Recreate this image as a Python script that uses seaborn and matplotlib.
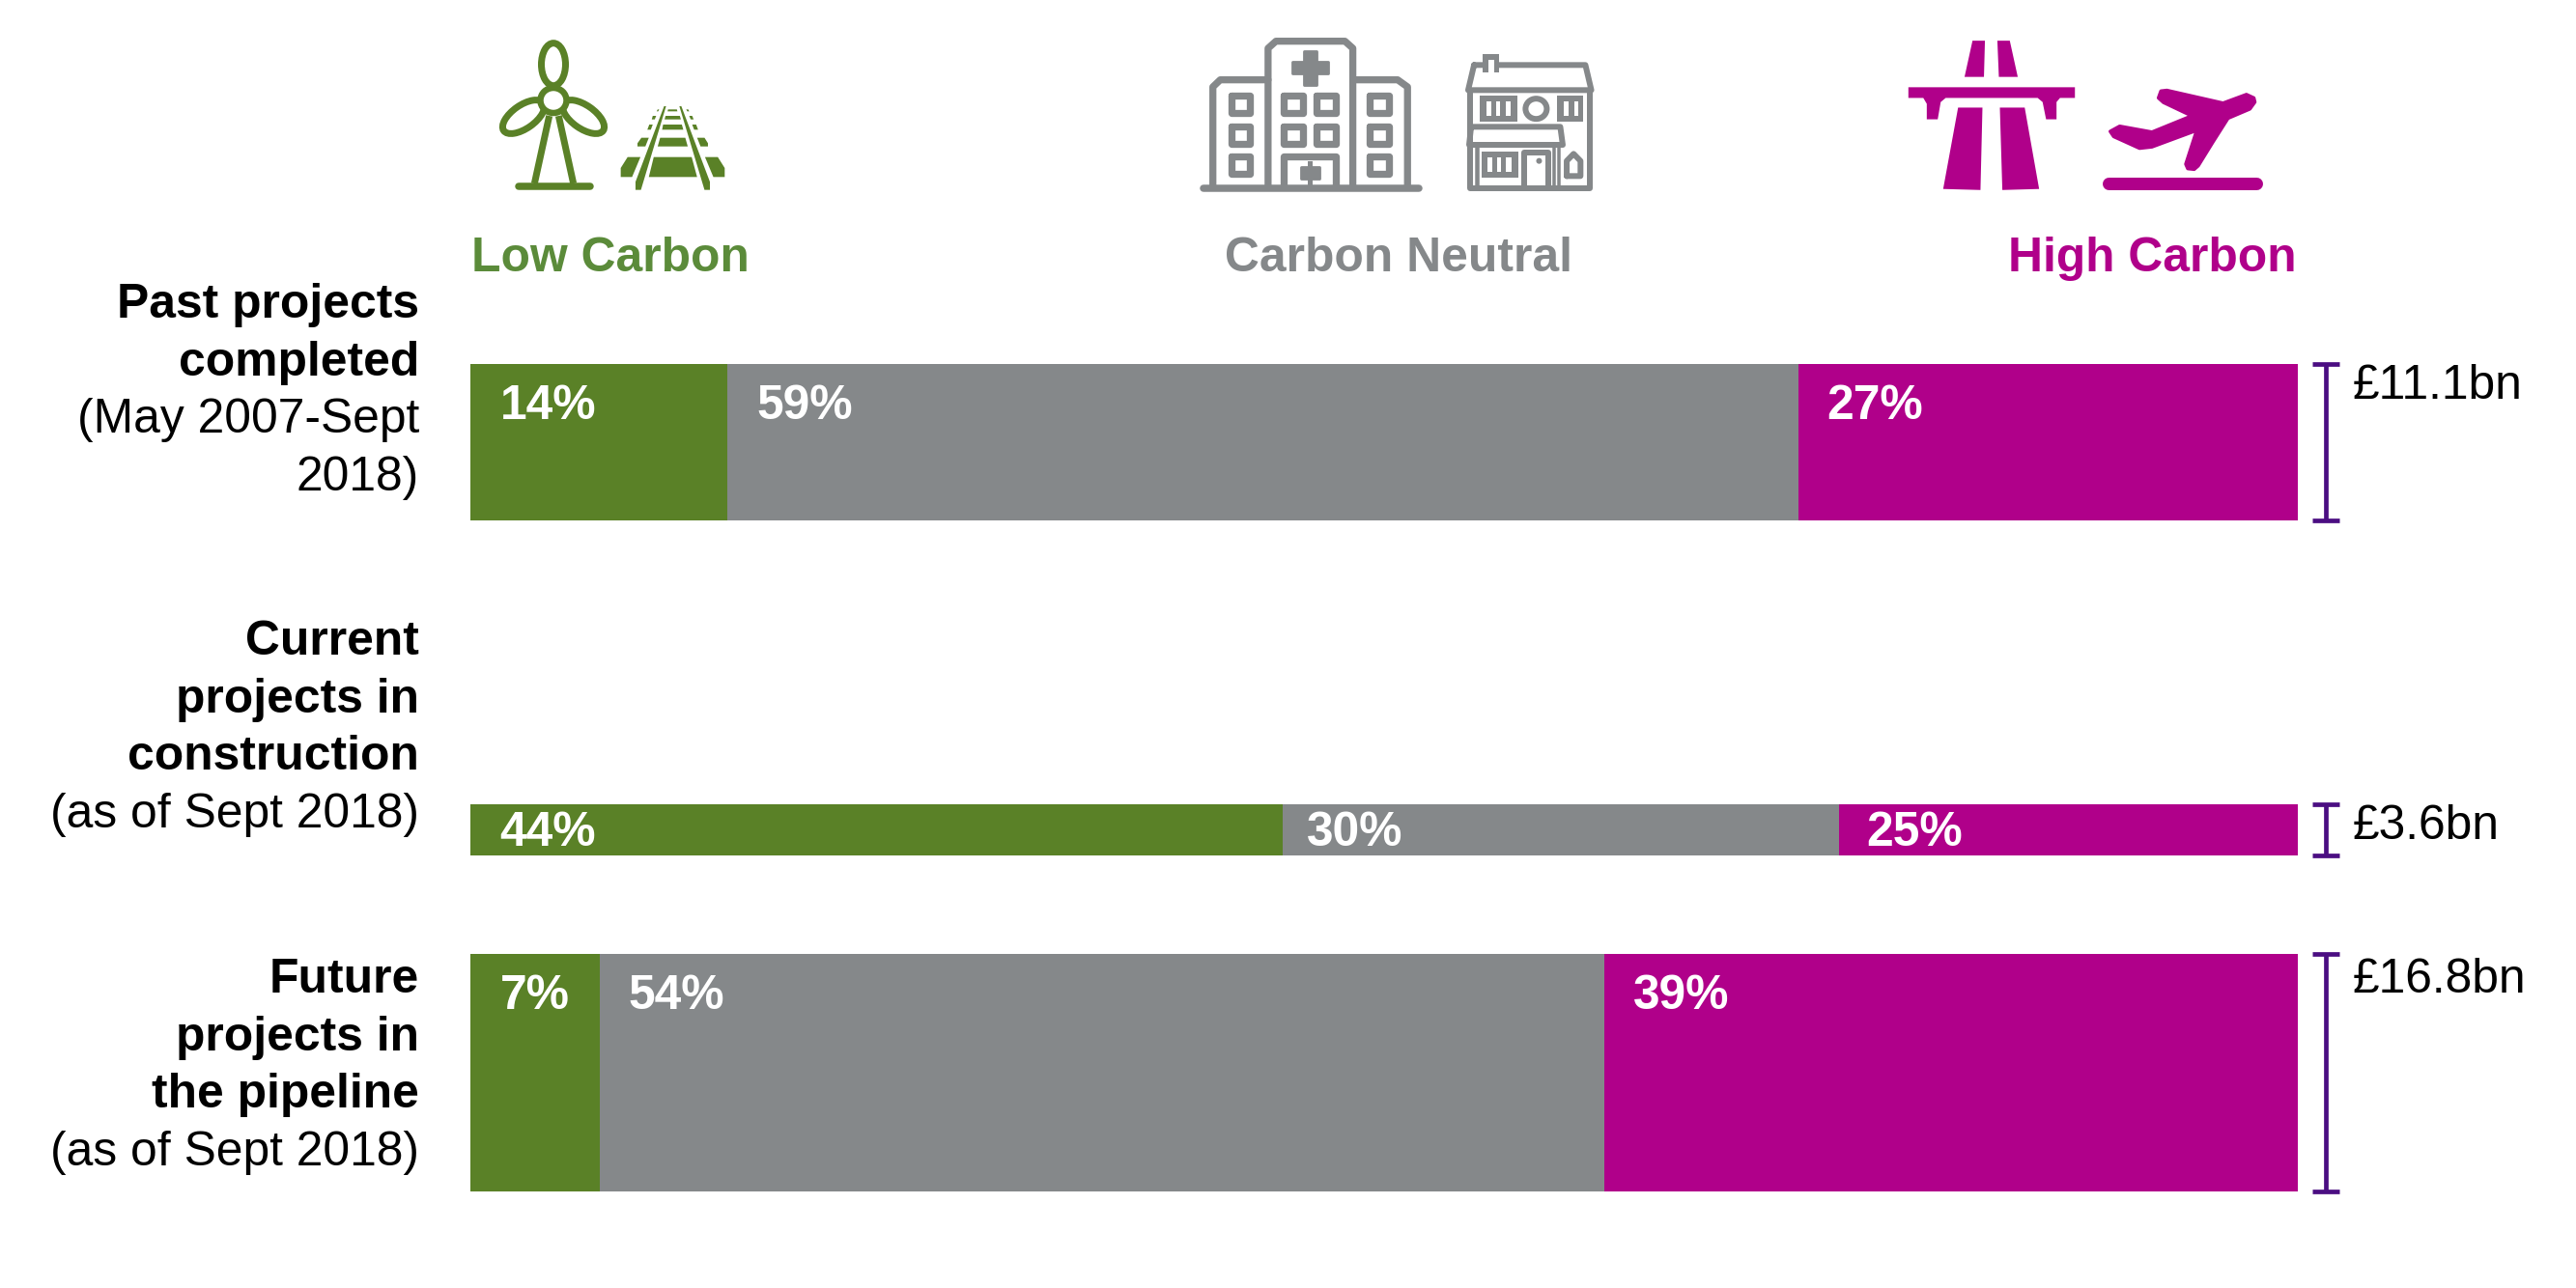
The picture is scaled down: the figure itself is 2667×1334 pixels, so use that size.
import numpy as np
import pandas as pd
import matplotlib
matplotlib.use("Agg")
import matplotlib.pyplot as plt
from matplotlib.patches import Polygon, Ellipse
import seaborn as sns

# data
projects = ["Past", "Current", "Future"]
totals = [11.1, 3.6, 16.8]  # £bn, sets bar thickness
total_labels = ["£11.1bn", "£3.6bn", "£16.8bn"]
low_share = [14.1, 44.5, 7.1]
neutral_share = [58.6, 30.4, 55.0]
high_share = [27.3, 25.1, 37.9]
low_labels = ["14%", "44%", "7%"]
neutral_labels = ["59%", "30%", "54%"]
high_labels = ["27%", "25%", "39%"]
row_labels = [
    [("Past projects", "bold"), ("completed", "bold"), ("(May 2007-Sept", "normal"), ("2018)", "normal")],
    [("Current", "bold"), ("projects in", "bold"), ("construction", "bold"), ("(as of Sept 2018)", "normal")],
    [("Future", "bold"), ("projects in", "bold"), ("the pipeline", "bold"), ("(as of Sept 2018)", "normal")],
]

GREEN = "#5A8127"
GREY = "#85888A"
MAGENTA = "#B0008A"
PURPLE = "#4B0E82"
W, H = 2667, 1334
BAR_L, BAR_R, BAR_T, BAR_B = 486.5, 2378.5, 376.5, 1233.5
PX_PER_BN = 14.6
FS = 35.8

sns.set_theme(style="white")
plt.rcParams["font.family"] = ["Liberation Sans", "DejaVu Sans"]

fig = plt.figure(figsize=(W / 100, H / 100), dpi=100)
ax = fig.add_axes([BAR_L / W, 1 - BAR_B / H, (BAR_R - BAR_L) / W, (BAR_B - BAR_T) / H])

# row centres in £bn units, gaps between the bars are uneven
centers = np.array([5.55, 33.1, 50.3])
df = pd.DataFrame({"project": projects, "total": totals, "center": centers,
                   "low": low_share, "neutral": neutral_share, "high": high_share})
df["cum_neutral"] = df["low"] + df["neutral"]
df["cum_high"] = df["cum_neutral"] + df["high"]

# overlay cumulative bars, longest first
for _, row in df.iterrows():
    for col, color in [("cum_high", MAGENTA), ("cum_neutral", GREY), ("low", GREEN)]:
        sns.barplot(x=[row[col]], y=[row["center"]], orient="h", native_scale=True,
                    width=row["total"], color=color, saturation=1, linewidth=0, ax=ax)

ax.set_xlim(0, 100)
ax.set_ylim((BAR_B - BAR_T) / PX_PER_BN, 0)
ax.axis("off")

# brackets showing the size of each bar
for _, row in df.iterrows():
    ax.errorbar(101.55, row["center"], yerr=row["total"] / 2, color=PURPLE, elinewidth=3.4,
                capsize=10, capthick=3.4, clip_on=False)

# percent labels and totals
for i, row in df.iterrows():
    top = row["center"] - row["total"] / 2
    drop = 43 if i == 1 else 57
    lefts = [0, row["low"], row["cum_neutral"]]
    texts = [low_labels[i], neutral_labels[i], high_labels[i]]
    pads = [31, 24 if i == 1 else 30, 29]
    for left, txt, pad in zip(lefts, texts, pads):
        ax.annotate(txt, (left, top), xytext=(pad, -drop), textcoords="offset pixels",
                    color="white", fontsize=FS, fontweight="bold", va="baseline", annotation_clip=False)

# overlay in image pixels for the header, row labels and icons
ov = fig.add_axes([0, 0, 1, 1], facecolor="none")
ov.set_xlim(0, W)
ov.set_ylim(H, 0)
ov.axis("off")

for label, y in zip(total_labels, [413, 869, 1028]):
    ov.text(2436, y, label, fontsize=FS, color="black", va="baseline")

for lines, first in zip(row_labels, [329, 678, 1028]):
    for k, (txt, weight) in enumerate(lines):
        ov.text(434, first + k * 59.7, txt, fontsize=FS, fontweight=weight, ha="right", va="baseline", color="black")

ov.text(488, 281, "Low Carbon", fontsize=FS, fontweight="bold", color="#5B8B3A", va="baseline")
ov.text(1448, 281, "Carbon Neutral", fontsize=FS, fontweight="bold", color=GREY, ha="center", va="baseline")
ov.text(2378, 281, "High Carbon", fontsize=FS, fontweight="bold", color=MAGENTA, ha="right", va="baseline")


# icon outlines below were traced in zoom crop coordinates
def z1(p):
    return [(460 + x / 1.96, 20 + y / 3) for x, y in p]

def z2(p):
    return [(1220 + x / 1.96, 20 + y / 3) for x, y in p]

def z3(p):
    return [(1860 + x / 1.943, 20 + y / 2.8) for x, y in p]

def fill(p, color, z=3, lw=0):
    ov.add_patch(Polygon(p, closed=True, fc=color, ec=color, lw=lw, joinstyle="round", zorder=z))

def stroke(p, color, px, closed=False, cap="round", z=3):
    xs, ys = zip(*(p + p[:1] if closed else p))
    ov.plot(xs, ys, color=color, lw=px * 0.72, solid_capstyle=cap, solid_joinstyle="round", zorder=z)

def box(x0, x1, y0, y1):
    return [(x0, y0), (x1, y0), (x1, y1), (x0, y1)]

# wind turbine
for c, w, h, ang in [((573, 66.7), 25, 44, 0), ((542, 121), 50, 24, 145), ((604, 121), 50, 24, 35)]:
    ov.add_patch(Ellipse(c, w, h, angle=ang, fc="none", ec=GREEN, lw=7 * 0.72, zorder=3))
ov.add_patch(Ellipse((573, 104), 27, 26, fc="white", ec=GREEN, lw=6.5 * 0.72, zorder=4))
stroke(z1([(213, 300), (183, 510)]), GREEN, 7, cap="butt", z=4)
stroke(z1([(232, 300), (262, 510)]), GREEN, 7, cap="butt", z=4)
stroke(z1([(150, 518), (295, 518)]), GREEN, 7.5)

# railway
track = [
    [(425, 428), (502, 428), (513, 490), (415, 490)],
    [(438, 368), (489, 368), (494, 395), (433, 395)],
    [(444, 327), (482, 327), (485, 343), (442, 343)],
    [(449, 300), (478, 300), (480, 311), (447, 311)],
    [(454, 280), (472, 280), (473, 286), (453, 286)],
    [(372, 428), (398, 428), (381, 490), (358, 490), (358, 462)],
    [(529, 428), (555, 428), (569, 462), (569, 490), (546, 490)],
    [(400, 368), (415, 368), (408, 395), (392, 395), (392, 385)],
    [(513, 368), (528, 368), (535, 385), (535, 395), (520, 395)],
    [(416, 327), (423, 327), (419, 343), (412, 343)],
    [(503, 327), (511, 327), (515, 343), (507, 343)],
    [(423, 300), (430, 300), (427, 311), (421, 311)],
    [(497, 300), (503, 300), (506, 311), (500, 311)],
    [(433, 280), (436, 280), (434, 286), (431, 286)],
    [(491, 280), (495, 280), (497, 286), (493, 286)],
]
for p in track:
    fill(z1(p), GREEN)
for p in [[(446, 270), (450, 270), (399, 530), (388, 530), (388, 505)],
          [(477, 270), (481, 270), (539, 505), (539, 530), (528, 530)]]:
    fill(z1(p), GREEN, z=5)

# hospital
s = 7.3
stroke(z2([(50, 524), (488, 524)]), GREY, 7.5)
stroke(z2([(182, 515), (182, 90), (198, 68), (338, 68), (354, 90), (354, 515)]), GREY, s)
stroke(z2([(182, 188), (85, 188), (70, 210), (70, 515)]), GREY, s)
stroke(z2([(354, 188), (445, 188), (465, 210), (465, 515)]), GREY, s)
fill(z2(box(255, 280, 98, 205)), GREY, lw=2)
fill(z2(box(232, 303, 132, 168)), GREY, lw=2)
win_rows = [(226, 300), (322, 396), (417, 491)]
win_cols = [(100, 153), (207, 260), (273, 326), (382, 435)]
for ci, (x0, x1) in enumerate(win_cols):
    for ri, (y0, y1) in enumerate(win_rows):
        if ri == 2 and ci in (1, 2):
            continue
        stroke(z2(box(x0 + 7, x1 - 7, y0 + 10, y1 - 10)), GREY, s, closed=True)
stroke(z2([(214, 515), (214, 425), (319, 425), (319, 515)]), GREY, s)
fill(z2(box(248, 287, 460, 495)), GREY, lw=2)
fill(z2(box(262, 272, 440, 515)), GREY)

# house
s = 6
stroke(z2([(591, 228), (591, 526), (835, 526), (835, 228)]), GREY, s, cap="butt")
stroke(z2([(600, 142), (826, 142), (838, 220), (588, 220)]), GREY, s, closed=True)
fill(z2(box(618, 651, 108, 165)), GREY)
fill(z2(box(630, 640, 125, 165)), "white", z=4)
for x0, x1, slits in [(612, 688, [(625, 635), (645, 653), (665, 675)]), (768, 822, [(782, 792), (803, 811)])]:
    fill(z2(box(x0, x1, 237, 318)), GREY)
    for a, b in slits:
        fill(z2(box(a, b, 255, 300)), "white", z=4)
ov.add_patch(Ellipse((1220 + 726 / 1.96, 20 + 278 / 3), 22, 21, fc="none", ec=GREY, lw=s * 0.72, zorder=3))
stroke(z2([(594, 334), (775, 334), (780, 390), (590, 390)]), GREY, s, closed=True)
stroke(z2([(606, 395), (606, 525)]), GREY, 4.5, cap="butt")
fill(z2(box(615, 690, 410, 492)), GREY)
for a, b in [(628, 637), (647, 655), (665, 677)]:
    fill(z2(box(a, b, 430, 475)), "white", z=4)
stroke(z2([(702, 525), (702, 415), (750, 415), (750, 525)]), GREY, s, cap="butt")
stroke(z2([(762, 395), (762, 525)]), GREY, 3.5, cap="butt")
stroke(z2([(772, 395), (772, 525)]), GREY, 3.5, cap="butt")
ov.add_patch(Ellipse((1220 + 732 / 1.96, 20 + 440 / 3), 6, 6, fc=GREY, ec="none", zorder=3))
stroke(z2([(788, 487), (788, 440), (802, 418), (816, 440), (816, 487)]), GREY, s, closed=True)

# motorway
road = [
    [(354, 62), (379, 62), (377, 167), (338, 167)],
    [(404, 62), (429, 62), (445, 167), (407, 167)],
    [(225, 197), (560, 197), (560, 228), (530, 228), (523, 240), (523, 290), (502, 290), (495, 240), (485, 228),
     (300, 228), (290, 240), (284, 290), (262, 290), (262, 245), (255, 228), (225, 228)],
    [(325, 256), (374, 256), (370, 495), (295, 492)],
    [(409, 256), (459, 256), (488, 492), (414, 495)],
]
for p in road:
    fill(z3(p), MAGENTA)

# plane and runway
plane = [(920, 228), (905, 218), (858, 243), (745, 206), (733, 208), (728, 228), (738, 241), (795, 280), (715, 327),
         (650, 310), (631, 325), (638, 340), (690, 374), (715, 370), (805, 322), (783, 420), (787, 433), (800, 435),
         (808, 425), (838, 355), (868, 287), (912, 260), (922, 240)]
fill(z3(plane), MAGENTA, lw=2.5)
stroke(z3([(628, 477), (924, 477)]), MAGENTA, 13)

fig.savefig("out.png", dpi=100)
